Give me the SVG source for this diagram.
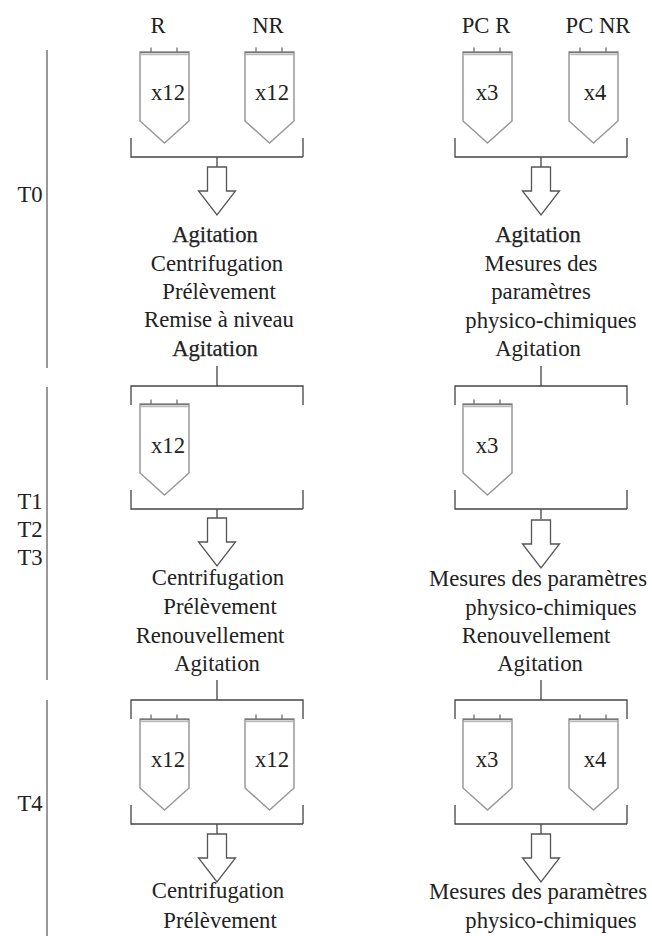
<svg xmlns="http://www.w3.org/2000/svg" xmlns:xlink="http://www.w3.org/1999/xlink" width="652" height="936" viewBox="0 0 652 936">
<style>
text{font-family:"Liberation Serif","Times New Roman",serif;font-size:22.700px;fill:#222;text-anchor:middle}
.heavy{stroke:#222;stroke-width:.25}
.tube{fill:#fff;stroke:#999;stroke-width:1.5}
.lid{fill:none;stroke:#777;stroke-width:1.4}
.line{fill:none;stroke:#444;stroke-width:1.3}
.arrow{fill:#fff;stroke:#555;stroke-width:1.3}
.time{fill:none;stroke:#555;stroke-width:1.2}
</style>
<defs>
<g id="tube-shape">
<path class="tube" d="M0 0V69L24.500 91L49 69V0Z"/>
<path class="lid" d="M0 0.500H49M11 0V-4.500M37 0V-4.500"/>
<path d="M1 2.500H48" fill="none" stroke="#bbb" stroke-width="1.500"/>
</g>
<path id="bracket-bottom" class="line" d="M0-19V0H172M172 0V-19M86 0V10"/>
<path id="bracket-top" class="line" d="M0 19V0H172V19M86 0V-20"/>
<path id="down-arrow" class="arrow" d="M-9.500 0H9.500V24H18.500L0 48L-18.500 24H-9.500Z"/>
</defs>
<g id="connectors">
<path class="time" d="M47 50V368M47 387V680M47 700V936"/>
<use xlink:href="#bracket-bottom" href="#bracket-bottom" x="131" y="157"/>
<use xlink:href="#bracket-bottom" href="#bracket-bottom" x="455" y="157"/>
<use xlink:href="#bracket-top" href="#bracket-top" x="131" y="386"/>
<use xlink:href="#bracket-top" href="#bracket-top" x="455" y="386"/>
<use xlink:href="#bracket-bottom" href="#bracket-bottom" x="131" y="509"/>
<use xlink:href="#bracket-bottom" href="#bracket-bottom" x="455" y="509"/>
<use xlink:href="#bracket-top" href="#bracket-top" x="131" y="700"/>
<use xlink:href="#bracket-top" href="#bracket-top" x="455" y="700"/>
<use xlink:href="#bracket-bottom" href="#bracket-bottom" x="131" y="824"/>
<use xlink:href="#bracket-bottom" href="#bracket-bottom" x="455" y="824"/>
<use xlink:href="#down-arrow" href="#down-arrow" x="217" y="167"/>
<use xlink:href="#down-arrow" href="#down-arrow" x="541" y="167"/>
<use xlink:href="#down-arrow" href="#down-arrow" x="217" y="518"/>
<use xlink:href="#down-arrow" href="#down-arrow" x="541" y="520"/>
<use xlink:href="#down-arrow" href="#down-arrow" x="217" y="834"/>
<use xlink:href="#down-arrow" href="#down-arrow" x="541" y="834"/>
</g>
<g id="headers">
<text x="158" y="33">R</text><text x="268" y="33">NR</text><text x="486" y="33">PC R</text><text x="598" y="33">PC NR</text>
</g>
<g id="times">
<text x="30" y="202">T0</text><text x="30" y="509">T1</text><text x="30" y="537">T2</text><text x="30" y="565">T3</text><text x="30" y="811">T4</text>
</g>
<g id="t0-r"><use xlink:href="#tube-shape" href="#tube-shape" x="140" y="52"/><text x="168" y="100">x12</text></g>
<g id="t0-nr"><use xlink:href="#tube-shape" href="#tube-shape" x="245" y="52"/><text x="272" y="100">x12</text></g>
<g id="t0-pcr"><use xlink:href="#tube-shape" href="#tube-shape" x="463" y="52"/><text x="487" y="100">x3</text></g>
<g id="t0-pcnr"><use xlink:href="#tube-shape" href="#tube-shape" x="569" y="52"/><text x="595" y="100">x4</text></g>
<g id="t1-r"><use xlink:href="#tube-shape" href="#tube-shape" x="140" y="404"/><text x="168" y="453">x12</text></g>
<g id="t1-pcr"><use xlink:href="#tube-shape" href="#tube-shape" x="463" y="404"/><text x="487" y="453">x3</text></g>
<g id="t4-r"><use xlink:href="#tube-shape" href="#tube-shape" x="140" y="719"/><text x="168" y="767">x12</text></g>
<g id="t4-nr"><use xlink:href="#tube-shape" href="#tube-shape" x="245" y="719"/><text x="272" y="767">x12</text></g>
<g id="t4-pcr"><use xlink:href="#tube-shape" href="#tube-shape" x="463" y="719"/><text x="487" y="767">x3</text></g>
<g id="t4-pcnr"><use xlink:href="#tube-shape" href="#tube-shape" x="569" y="719"/><text x="595" y="767">x4</text></g>
<g id="steps-t0-left">
<text class="heavy" x="215" y="242">Agitation</text><text x="217" y="271">Centrifugation</text><text x="219" y="299">Prélèvement</text><text x="219" y="327">Remise à niveau</text><text class="heavy" x="215" y="356">Agitation</text>
</g>
<g id="steps-t0-right">
<text class="heavy" x="538" y="242">Agitation</text><text x="541" y="271">Mesures des</text><text x="541" y="299">paramètres</text><text x="551" y="328">physico-chimiques</text><text x="538" y="356">Agitation</text>
</g>
<g id="steps-t1-left">
<text x="218" y="585">Centrifugation</text><text x="220" y="614">Prélèvement</text><text x="210" y="643">Renouvellement</text><text x="217" y="671">Agitation</text>
</g>
<g id="steps-t1-right">
<text x="538" y="586">Mesures des paramètres</text><text x="551" y="615">physico-chimiques</text><text x="536" y="643">Renouvellement</text><text x="540" y="671">Agitation</text>
</g>
<g id="steps-t4-left">
<text x="218" y="898">Centrifugation</text><text x="220" y="928">Prélèvement</text>
</g>
<g id="steps-t4-right">
<text x="538" y="899">Mesures des paramètres</text><text x="551" y="928">physico-chimiques</text>
</g>
</svg>
